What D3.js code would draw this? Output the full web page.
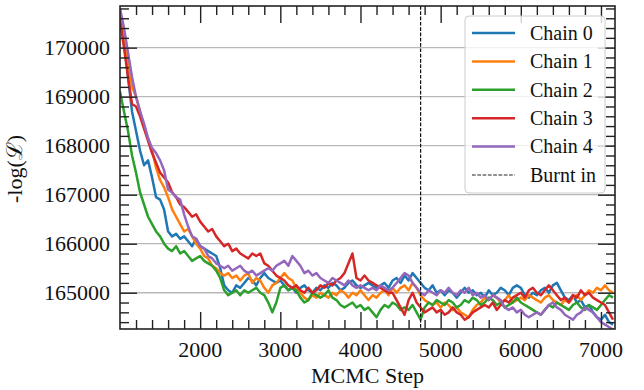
<!DOCTYPE html>
<html>
<head>
<meta charset="utf-8">
<script src="https://cdn.jsdelivr.net/npm/d3@7"></script>
<style>
  body { margin: 0; background: #fff; }
  svg { display: block; }
</style>
</head>
<body>
<div id="chart"></div>
<script>
"use strict";

/* MCMC steps, one sample every 50 steps */
const steps = d3.range(1000, 7151, 50);
const burnIn = 4750;

const chainNames = ["Chain 0", "Chain 1", "Chain 2", "Chain 3", "Chain 4"];
const chainColors = ["#1f77b4", "#ff7f0e", "#2ca02c", "#d62728", "#9467bd"];

// values, -log(L) per step
const chain0 = [
  170700, 170200, 169400, 168700, 168300, 167900, 167600, 167700, 167350, 166950,
  166900, 166700, 166250, 166150, 166200, 166100, 166150, 166050, 165950, 166100,
  165950, 165900, 165850, 165800, 165750, 165500, 165150, 165050, 165000, 165150,
  165100, 165200, 165300, 165250, 165150, 165300, 165400, 165300, 165250, 165200,
  165250, 165150, 165050, 165100, 165000, 165100, 165150, 165050, 165000, 165100,
  165050, 165150, 165100, 165200, 165150, 165050, 165100, 165200, 165250, 165150,
  165100, 165150, 165200, 165150, 165100, 165150, 165200, 165100, 165250, 165300,
  165200, 165350, 165250, 165400, 165300, 165200, 165100, 165050, 165150, 165000,
  165050, 164950, 165050, 165000, 164900, 165000, 165100, 165000, 165050, 164950,
  165000, 164900, 165050, 164950, 165000, 165100, 165050, 164950, 165100, 165150,
  165100, 164950, 164900, 165000, 164950, 165050, 165100, 165000, 165150, 165200,
  165050, 164900, 164850, 164950, 164800, 164850, 164700, 164750, 164600, 164500,
  164450, 164550, 164400, 164350
];
const chain1 = [
  170750, 170300, 169700, 169200, 169000, 168700, 168400, 168150, 167900, 167550,
  167300, 167150, 166950, 166700, 166550, 166400, 166250, 166300, 166150, 166000,
  165900, 165750, 165700, 165550, 165500, 165400, 165350, 165400, 165300, 165350,
  165250, 165350, 165400, 165200, 165300, 165250, 165100, 165000, 165150, 165200,
  165300, 165400, 165300, 165250, 165100, 165000, 164900, 164850, 164950, 164900,
  165000, 164950, 164900, 165000, 164950, 165050, 165000, 164900, 165000, 164950,
  165050, 164950, 164850, 164950, 164900, 165000, 165050, 164950, 165100, 165000,
  165100, 165150, 165050, 165200, 165100, 164950, 164850, 164800, 164750, 164800,
  164700, 164800, 164750, 164650, 164700, 164600, 164550, 164500, 164650, 164750,
  164800, 164900, 164850, 164950, 164900, 164800, 164850, 164950, 164800, 164850,
  164900, 164850, 164950, 164900, 164850, 164800, 164900, 164950, 164850, 164800,
  164750, 164850, 164800, 164900, 164950, 164850, 164950, 165050, 165000, 165100,
  165050, 165150, 165050, 165000
];
const chain2 = [
  169100, 168700, 168300, 167800, 167450, 167050, 166800, 166550, 166400, 166250,
  166150, 166000, 165900, 165850, 165950, 165800, 165850, 165750, 165650, 165700,
  165750, 165650, 165600, 165550, 165450, 165300, 165050, 164950, 165000, 165050,
  164950, 165050, 165000, 165050, 165100, 165000, 164950, 164800, 164600, 164800,
  165100, 165150, 165050, 165100, 165050, 164900, 164800, 164850, 165000, 164950,
  164900, 164950, 165050, 164900, 164850, 164750, 164700, 164750, 164800, 164700,
  164750, 164650, 164700, 164600, 164500, 164650, 164750, 164700, 164800, 164750,
  164650, 164700, 164650, 164750, 164600, 164450, 164700, 164800, 164750, 164850,
  164800, 164750, 164850, 164800, 164700, 164750, 164850, 164800, 164900, 164850,
  164750, 164800, 164900, 164850, 164750, 164800, 164700, 164750, 164800, 164900,
  164800, 164750, 164700, 164650, 164600, 164550, 164650, 164750, 164700, 164800,
  164750, 164700, 164650, 164750, 164800, 164700, 164650, 164750, 164700, 164650,
  164750, 164850, 164950, 164900
];
const chain3 = [
  170550, 170000, 169400, 168850, 168800, 168600, 168350, 168100, 167850, 167650,
  167450, 167350, 167250, 167050, 166950, 166800, 166750, 166650, 166550, 166600,
  166450, 166350, 166250, 166300, 166150, 166050, 165950, 166000, 165850, 165900,
  165800, 165750, 165700, 165800, 165750, 165800, 165600, 165550, 165450, 165350,
  165300, 165250, 165150, 165100, 165150, 165050, 165000, 165100, 165000, 165050,
  165150, 165100, 165200, 165150, 165250, 165300, 165400, 165600, 165800, 165300,
  165250, 165350, 165250, 165200, 165150, 165100, 165050, 165000, 165000, 164850,
  164700, 164550, 164850, 165000, 164800, 164700, 164600, 164650, 164700, 164600,
  164650, 164550, 164600, 164700, 164600, 164550, 164450, 164500, 164600, 164650,
  164700, 164750, 164700, 164800, 164650, 164750, 164850, 164800, 164900, 164950,
  165000, 164900, 165050, 165100, 165000, 164950, 165050, 165150, 165050, 164950,
  164850, 164900, 164800, 164950, 164900, 165050, 164950, 165000, 164900, 164850,
  164800, 164750, 164600, 164450
];
const chain4 = [
  170800, 170400, 169900, 169400, 169000, 168700, 168450, 168150, 167950, 167850,
  167700, 167500, 167100, 167050, 166950, 166900, 166600, 166350, 166150, 166100,
  165950, 165900, 165750, 165700, 165600, 165550, 165500, 165550, 165450, 165500,
  165550, 165450, 165400, 165450, 165350, 165400, 165450, 165500, 165450, 165550,
  165600, 165650, 165550, 165750, 165650, 165550, 165400, 165450, 165350, 165400,
  165300, 165250, 165200, 165300, 165250, 165200, 165150, 165250, 165150, 165100,
  165150, 165100, 165050, 165100, 165050, 165150, 165100, 165050, 165100, 165200,
  165300, 165400, 165350, 165200, 165100, 165000, 164950, 165050, 165000, 164950,
  165050, 165000, 165100, 165000, 164950, 165050, 165000, 165100, 164950, 165000,
  164900, 164950, 164850, 164950, 164900, 164850, 164700, 164650, 164700, 164600,
  164650, 164550, 164500, 164550, 164600, 164550, 164650, 164750, 164800, 164700,
  164650, 164550, 164500, 164450, 164550, 164600, 164700, 164650, 164600, 164500,
  164400, 164350, 164300, 164250
];
const chains = [chain0, chain1, chain2, chain3, chain4];

const xMajor = [2000, 3000, 4000, 5000, 6000, 7000];
const yMajor = [165000, 166000, 167000, 168000, 169000, 170000];

const FONT = "'Liberation Serif', 'Times New Roman', Times, 'DejaVu Serif', serif";

/* layout */
const W = 644, H = 390;
const margin = { top: 6, right: 29, bottom: 61, left: 120 };
const pw = W - margin.left - margin.right;
const ph = H - margin.top - margin.bottom;

const x = d3.scaleLinear().domain([1000, 7175]).range([0, pw]);
const y = d3.scaleLinear().domain([164260, 170850]).range([ph, 0]);

const svg = d3.select("#chart").append("svg")
  .attr("width", W)
  .attr("height", H)
  .attr("font-family", FONT)
  .style("font-family", FONT);

const g = svg.append("g")
  .attr("transform", `translate(${margin.left},${margin.top})`);

g.append("clipPath").attr("id", "clip")
  .append("rect").attr("width", pw).attr("height", ph);

// horizontal grid
g.append("g")
  .selectAll("line")
  .data(yMajor)
  .enter()
  .append("line")
  .attr("x1", 0).attr("x2", pw)
  .attr("y1", d => y(d)).attr("y2", d => y(d))
  .attr("stroke", "#b8b8b8")
  .attr("stroke-width", 1.3);

// chains
const line = d3.line()
  .x((d, i) => x(steps[i]))
  .y(d => y(d));

g.append("g")
  .attr("clip-path", "url(#clip)")
  .selectAll("path")
  .data(chains)
  .enter()
  .append("path")
  .attr("d", line)
  .attr("fill", "none")
  .attr("stroke", (d, i) => chainColors[i])
  .attr("stroke-width", 2.5)
  .attr("stroke-linejoin", "round");

// burn in marker
g.append("line")
  .attr("x1", x(burnIn)).attr("x2", x(burnIn))
  .attr("y1", 0).attr("y2", ph)
  .attr("stroke", "#111")
  .attr("stroke-width", 1.2)
  .attr("stroke-dasharray", "3.7,1.6");

/* ticks on all four sides, pointing inward */
const xMinor = d3.range(1200, 7175, 200).filter(v => v % 1000 !== 0);
const yMinor = d3.range(164400, 170850, 200).filter(v => v % 1000 !== 0);
const tickCol = "#222";

function addAxis(axis, scale, majors, minors) {
  const a = g.append("g");
  if (axis === "bottom") a.attr("transform", `translate(0,${ph})`);
  if (axis === "right") a.attr("transform", `translate(${pw},0)`);
  const ax = (axis === "bottom" ? d3.axisBottom : axis === "top" ? d3.axisTop :
    axis === "left" ? d3.axisLeft : d3.axisRight)(scale);
  ax.tickValues(majors.concat(minors))
    .tickSize(-1)
    .tickSizeOuter(0)
    .tickFormat("");
  a.call(ax);
  a.select(".domain").remove();
  a.selectAll(".tick line")
    .attr("stroke", tickCol)
    .attr("stroke-width", 1.4)
    .each(function (d) {
      const len = majors.includes(d) ? 17 : 9;
      const el = d3.select(this);
      if (axis === "bottom") el.attr("y2", -len);
      if (axis === "top") el.attr("y2", len);
      if (axis === "left") el.attr("x2", len);
      if (axis === "right") el.attr("x2", -len);
    });
}
addAxis("bottom", x, xMajor, xMinor);
addAxis("top", x, xMajor, xMinor);
addAxis("left", y, yMajor, yMinor);
addAxis("right", y, yMajor, yMinor);

g.append("rect")
  .attr("width", pw).attr("height", ph)
  .attr("fill", "none")
  .attr("stroke", tickCol)
  .attr("stroke-width", 1.6);

// tick labels
g.append("g")
  .selectAll("text")
  .data(xMajor)
  .enter()
  .append("text")
  .attr("x", d => x(d))
  .attr("y", ph + 28)
  .attr("text-anchor", "middle")
  .attr("fill", "#111")
  .style("font-size", "22px")
  .text(d => d);

g.append("g")
  .selectAll("text")
  .data(yMajor)
  .enter()
  .append("text")
  .attr("x", -10)
  .attr("y", d => y(d))
  .attr("dy", "0.34em")
  .attr("text-anchor", "end")
  .attr("fill", "#111")
  .style("font-size", "22px")
  .text(d => d);

// axis titles
svg.append("text")
  .attr("x", margin.left + pw / 2)
  .attr("y", 383)
  .attr("text-anchor", "middle")
  .attr("fill", "#111")
  .style("font-size", "22px")
  .text("MCMC Step");

const yTitle = svg.append("text")
  .attr("transform", "translate(22,169) rotate(-90)")
  .attr("text-anchor", "middle")
  .attr("fill", "#111")
  .style("font-size", "22px");
yTitle.append("tspan").text("-log(");
yTitle.append("tspan").text("\u2112");
yTitle.append("tspan").text(")");

/* legend */
const legX = 465, legY = 16, rowH = 28.4;
const legend = svg.append("g");
legend.append("rect")
  .attr("x", legX).attr("y", legY)
  .attr("width", 140).attr("height", 177)
  .attr("rx", 4)
  .attr("fill", "#fff").attr("fill-opacity", 0.8)
  .attr("stroke", "#cccccc").attr("stroke-width", 1);

const legendItems = chainNames.map((n, i) => ({ name: n, color: chainColors[i], dash: null }))
  .concat([{ name: "Burnt in", color: "#222", dash: "3.7,1.6" }]);

const rows = legend.selectAll("g.row")
  .data(legendItems)
  .enter()
  .append("g")
  .attr("class", "row")
  .attr("transform", (d, i) => `translate(0,${33 + i * rowH})`);

rows.append("line")
  .attr("x1", 472).attr("x2", 515)
  .attr("stroke", d => d.color)
  .attr("stroke-width", d => d.dash ? 1.2 : 2.5)
  .attr("stroke-dasharray", d => d.dash);

rows.append("text")
  .attr("x", 530)
  .attr("dy", "0.34em")
  .attr("fill", "#111")
  .style("font-size", "20px")
  .text(d => d.name);
</script>
</body>
</html>
